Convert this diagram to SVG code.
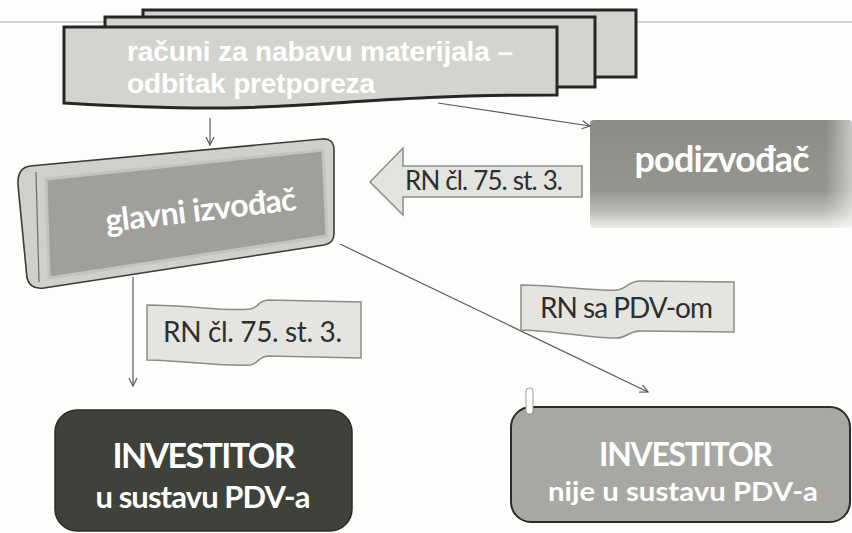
<svg xmlns="http://www.w3.org/2000/svg" width="852" height="533" viewBox="0 0 852 533">
<style>
.doc{fill:#d3d4cf;stroke:#262626;stroke-width:3}
.conn{fill:none;stroke:#5a5a5a;stroke-width:1.2}
.lbl{fill:#e4e5e1;stroke:#8c8c8c;stroke-width:1.5}
.lt{font-family:Lato,"Open Sans",sans-serif;fill:#2e2e2e}
.wt{font-family:Lato,"Open Sans",sans-serif;font-weight:bold;fill:#ffffff}
.dt{font-family:"Liberation Sans",Arial,sans-serif;font-weight:bold;fill:#ffffff}
</style>
<defs>
<marker id="ah" markerWidth="10" markerHeight="10" refX="9" refY="5" orient="auto" markerUnits="userSpaceOnUse">
<path d="M1,1 L9,5 L1,9" fill="none" stroke="#5a5a5a" stroke-width="1.2"/>
</marker>
<linearGradient id="podg" x1="0" y1="0" x2="0" y2="1">
<stop offset="0" stop-color="#8b8c87"/>
<stop offset="0.65" stop-color="#95968f"/>
<stop offset="0.85" stop-color="#bdbdb9"/>
<stop offset="1" stop-color="#ededeb"/>
</linearGradient>
<linearGradient id="podh" x1="0" y1="0" x2="1" y2="0">
<stop offset="0.9" stop-color="#ffffff" stop-opacity="0"/>
<stop offset="1" stop-color="#ffffff" stop-opacity="0.5"/>
</linearGradient>
</defs>
<rect width="852" height="533" fill="#fdfdfc"/>
<line x1="0" y1="22" x2="852" y2="22" stroke="#d2d2d2" stroke-width="2"/>

<g id="racuni">
<path class="doc" d="M143,10 H636 V77 H143 Z"/>
<path class="doc" d="M105,17 H595 V87 H105 Z"/>
<path class="doc" d="M64,27 H557 V95 C310,95 310,118 64,103 Z"/>
<text class="dt" x="127" y="61" font-size="28" textLength="386">računi za nabavu materijala –</text>
<text class="dt" x="127" y="93" font-size="28" textLength="248">odbitak pretporeza</text>
</g>

<g id="glavni">
<path d="M30,166 L322,139 Q334,138 334,150 L334,234 Q334,243 324,245 L44,288 Q30,290 27,278 L18,185 Q17,168 30,166 Z" fill="#cfd0cb" stroke="#3a3a3a" stroke-width="1.6"/>
<path d="M36,172 L39,282" fill="none" stroke="#6a6a6a" stroke-width="1.2"/>
<path d="M46,179 L323,150 L327,236 L49,278 Z" fill="#9f9f9b" stroke="#c3c4bf" stroke-width="3" stroke-linejoin="round"/>
<text class="wt" x="202" y="221" font-size="32" text-anchor="middle" textLength="192" transform="rotate(-6.6 202 221)">glavni izvođač</text>
</g>

<g id="podizvodac">
<rect x="590" y="120" width="262" height="108" rx="4" fill="url(#podg)"/>
<rect x="590" y="120" width="262" height="108" rx="4" fill="url(#podh)"/>
<text class="wt" x="722" y="172" font-size="36" text-anchor="middle" textLength="175">podizvođač</text>
</g>

<g id="strelica-rn">
<path d="M370,182 L403,148 L403,166 L582,166 L582,197 L403,197 L403,215 Z" fill="#e3e4e0" stroke="#8c8c8c" stroke-width="1.5"/>
<text class="lt" x="405" y="190" font-size="26" textLength="158">RN čl. 75. st. 3.</text>
</g>

<g id="investitor-u">
<rect x="55" y="410" width="297" height="121" rx="22" fill="#3f423b" stroke="#2a2c27" stroke-width="1.5"/>
<text class="wt" x="204" y="468" font-size="34" text-anchor="middle" textLength="183">INVESTITOR</text>
<text class="wt" x="203" y="508" font-size="31" text-anchor="middle" textLength="215">u sustavu PDV-a</text>
</g>

<g id="investitor-nije">
<rect x="511" y="407" width="339" height="115" rx="20" fill="#a7a8a3" stroke="#2b2b2b" stroke-width="2"/>
<rect x="526" y="388" width="7" height="26" rx="3" fill="#ffffff" stroke="#9a9a9a" stroke-width="1"/>
<text class="wt" x="686" y="466" font-size="32" text-anchor="middle" textLength="174">INVESTITOR</text>
<text class="wt" x="683" y="501" font-size="27" text-anchor="middle" textLength="270" lengthAdjust="spacingAndGlyphs">nije u sustavu PDV-a</text>
</g>

<g id="connectors">
<line class="conn" x1="438" y1="103" x2="590" y2="126" marker-end="url(#ah)"/>
<line class="conn" x1="210" y1="118" x2="210" y2="145" marker-end="url(#ah)"/>
<line class="conn" x1="133" y1="277" x2="133" y2="386" marker-end="url(#ah)"/>
<line class="conn" x1="340" y1="244" x2="648" y2="392" marker-end="url(#ah)"/>
</g>

<g id="label-rn">
<path class="lbl" d="M147,305 C190,305 225,312 250,309 C258,308 258,301 268,300 L361,302 L361,358 L268,356 C258,357 258,364 250,365 C225,367 190,361 147,360 Z"/>
<text class="lt" x="163" y="342" font-size="28" textLength="179">RN čl. 75. st. 3.</text>
</g>

<g id="label-pdv">
<path class="lbl" d="M521,285 C560,285 595,292 617,290 C627,289 628,281 640,281 L734,282 L734,332 L640,331 C628,331 627,338 617,338 C595,339 560,331 521,330 Z"/>
<text class="lt" x="540" y="318" font-size="28" textLength="173">RN sa PDV-om</text>
</g>
</svg>
